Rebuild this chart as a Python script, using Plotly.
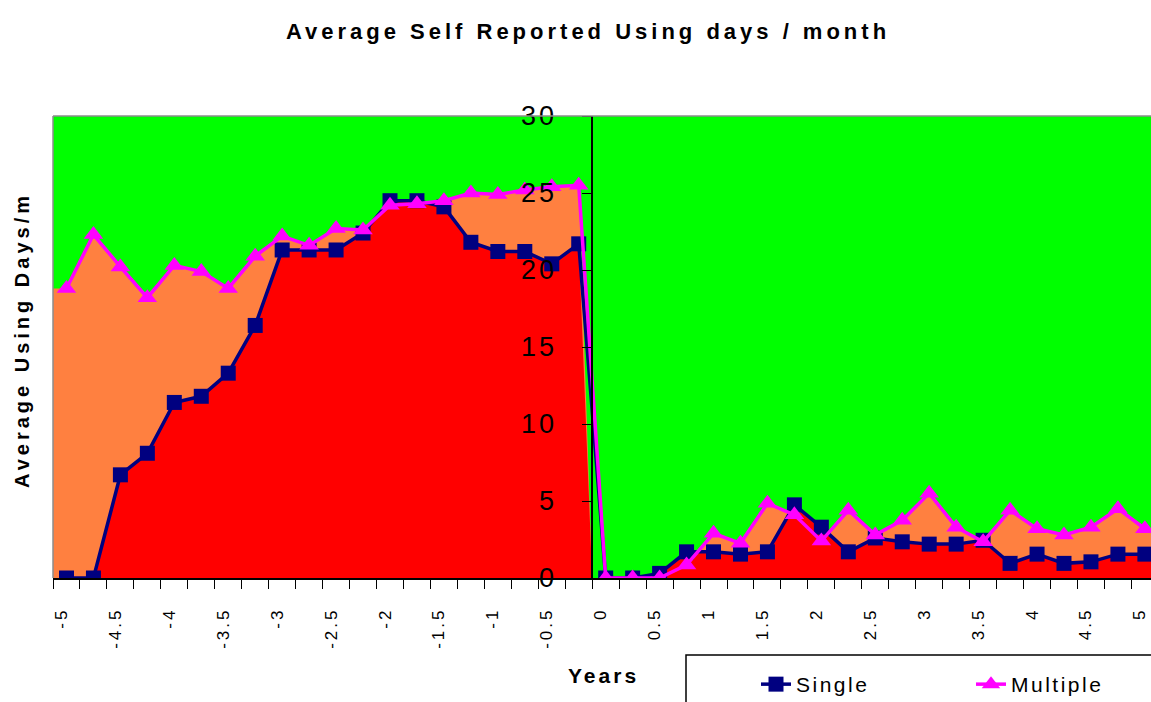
import plotly.graph_objects as go
import numpy as np

# ---------------- data ----------------
years = [-5, -4.75, -4.5, -4.25, -4, -3.75, -3.5, -3.25, -3, -2.75,
         -2.5, -2.25, -2, -1.75, -1.5, -1.25, -1, -0.75, -0.5, -0.25,
         0, 0.25, 0.5, 0.75, 1, 1.25, 1.5, 1.75, 2, 2.25,
         2.5, 2.75, 3, 3.25, 3.5, 3.75, 4, 4.25, 4.5, 4.75, 5]

single = [0, 0, 6.7, 8.1, 11.4, 11.8, 13.3, 16.4, 21.3, 21.3,
          21.3, 22.4, 24.5, 24.5, 24.1, 21.8, 21.2, 21.2, 20.4, 21.7,
          0, 0, 0.3, 1.7, 1.7, 1.55, 1.7, 4.75, 3.3, 1.7,
          2.6, 2.35, 2.2, 2.2, 2.45, 0.95, 1.55, 0.95, 1.05, 1.55, 1.55]

multiple = [18.8, 22.3, 20.2, 18.2, 20.3, 19.9, 18.8, 20.9, 22.2, 21.6,
            22.7, 22.6, 24.2, 24.3, 24.5, 25.0, 24.9, 25.2, 25.4, 25.5,
            0, 0, 0, 0.85, 2.9, 2.25, 4.85, 4.1, 2.4, 4.4,
            2.8, 3.75, 5.5, 3.3, 2.35, 4.4, 3.2, 2.8, 3.3, 4.5, 3.2]

x_tick_labels = ["-5", "-4.5", "-4", "-3.5", "-3", "-2.5", "-2", "-1.5", "-1", "-0.5",
                 "0", "0.5", "1", "1.5", "2", "2.5", "3", "3.5", "4", "4.5", "5"]
y_tick_values = [0, 5, 10, 15, 20, 25, 30]

series_names = ["Single", "Multiple"]

# ---------------- styling ----------------
GREEN = "#00FF00"
ORANGE = "#FF8040"
RED = "#FF0000"
NAVY = "#000080"
MAGENTA = "#FF00FF"
FONT = "Liberation Sans, Arial, sans-serif"

x = np.array(years, dtype=float)
step = x[1] - x[0]
half = step / 2


def area_xy(vals):
    """Area outline following the data, split at the pre/post boundary
    (area drops to zero at the category boundary before year 0),
    extended flat to the outer category edges like an Excel area chart."""
    v = np.array(vals, dtype=float)
    pre = x < 0
    post = ~pre
    xs = np.concatenate([[x[pre][0] - half], x[pre], [x[pre][-1] + half],
                         [x[post][0] - half], x[post], [x[post][-1] + half]])
    ys = np.concatenate([[v[pre][0]], v[pre], [0.0],
                         [v[post][0]], v[post], [v[post][-1]]])
    return xs, ys


def spaced(t, sp):
    return f'<span style="letter-spacing:{sp}px">{t}</span>'


fig = go.Figure()

# area layers (orange = Multiple, red = Single on top)
for vals, col in [(multiple, ORANGE), (single, RED)]:
    ax, ay = area_xy(vals)
    fig.add_trace(go.Scatter(x=ax, y=ay, mode="lines", line=dict(width=0, color=col),
                             fill="tozeroy", fillcolor=col, showlegend=False,
                             hoverinfo="skip"))

# line + marker series
fig.add_trace(go.Scatter(x=years, y=single, name=spaced(series_names[0], 2.5),
                         mode="lines+markers",
                         line=dict(color=NAVY, width=3.5),
                         marker=dict(symbol="square", size=15, color=NAVY)))
fig.add_trace(go.Scatter(x=years, y=multiple, name=spaced(series_names[1], 2.5),
                         mode="lines+markers",
                         line=dict(color=MAGENTA, width=3.5),
                         marker=dict(symbol="triangle-up", size=17, color=MAGENTA)))

# geometry: plot area left edge = -5.125, one category = 26.96 px
W, H = 1151, 702
ml, mr, mt, mb = 53, 0, 116, 124
plot_w = W - ml - mr
plot_h = H - mt - mb
px_per_unit = 26.96 / step
x_lo = x[0] - half
x_hi = x_lo + plot_w / px_per_unit
yaxis_pos = ((x[x < 0][-1] + half) - x_lo) / (x_hi - x_lo)

# labels sit a few pixels left of the category centres, as in the original
label_shift = 5 / px_per_unit
label_vals = [float(v) - label_shift for v in x_tick_labels]
minor_vals = list(np.concatenate([x - half, [x[-1] + half]]))

fig.update_layout(
    width=W, height=H, autosize=False,
    margin=dict(l=ml, r=mr, t=mt, b=mb, autoexpand=False),
    paper_bgcolor="white", plot_bgcolor=GREEN,
    font=dict(family=FONT, color="black"),
    title=dict(text=spaced("<b>Average Self Reported Using days / month</b>", 4),
               x=588 / W, xanchor="center", y=1 - 31 / H, yanchor="middle",
               font=dict(size=22, family=FONT, color="black")),
    xaxis=dict(range=[x_lo, x_hi], showgrid=False, zeroline=False, automargin=False,
               showline=True, linecolor="black", linewidth=1.5,
               tickmode="array", tickvals=label_vals,
               ticktext=[spaced(t, 3) for t in x_tick_labels],
               ticks="", tickangle=-90, ticklabelstandoff=21,
               ticklabeloverflow="allow",
               tickfont=dict(size=17, family=FONT, color="black"),
               minor=dict(tickmode="array", tickvals=minor_vals, ticks="outside",
                          ticklen=9, tickcolor="black", tickwidth=1)),
    yaxis=dict(range=[0, 30], anchor="free", position=yaxis_pos, side="left",
               automargin=False,
               showgrid=False, zeroline=False, showline=True, linecolor="black",
               linewidth=1.5, tickmode="array", tickvals=y_tick_values,
               ticktext=[spaced(str(v), 3) for v in y_tick_values],
               ticks="outside", ticklen=9, tickcolor="black", ticklabelstandoff=20,
               tickfont=dict(size=27, family=FONT, color="black")),
    showlegend=True,
    legend=dict(orientation="h", xref="container", yref="container",
                x=756 / W, xanchor="left",
                y=1 - 664 / H, yanchor="top",
                bgcolor="rgba(0,0,0,0)", borderwidth=0,
                entrywidth=170, entrywidthmode="pixels",
                font=dict(size=21, family=FONT, color="black")),
)

# plot border (gray, top & left) and legend box
fig.add_shape(type="line", xref="paper", yref="paper", x0=0, x1=0, y0=0, y1=1,
              line=dict(color="#8c8c8c", width=1.5), layer="above")
fig.add_shape(type="line", xref="paper", yref="paper", x0=0, x1=1, y0=1, y1=1,
              line=dict(color="#8c8c8c", width=1.5), layer="above")
fig.add_shape(type="rect", xref="paper", yref="paper",
              x0=(686 - ml) / plot_w, x1=1.05,
              y0=-(655 - (H - mb)) / plot_h, y1=-(720 - (H - mb)) / plot_h,
              line=dict(color="black", width=1.5), fillcolor="rgba(0,0,0,0)")

# axis titles
fig.add_annotation(text=spaced("<b>Years</b>", 3), xref="paper", yref="paper",
                   x=(603 - ml) / plot_w, y=-(675 - (H - mb)) / plot_h,
                   xanchor="center", yanchor="middle", showarrow=False,
                   font=dict(size=21, family=FONT, color="black"))
fig.add_annotation(text=spaced("<b>Average Using Days/m</b>", 4), xref="paper", yref="paper",
                   x=-(ml - 22) / plot_w, y=(H - mb - 340) / plot_h,
                   xanchor="center", yanchor="middle", showarrow=False, textangle=-90,
                   font=dict(size=20, family=FONT, color="black"))

fig.write_html(
    "out.html",
    config={"displayModeBar": False},
    post_script="document.body.style.margin='0';document.body.style.overflow='hidden';",
)
